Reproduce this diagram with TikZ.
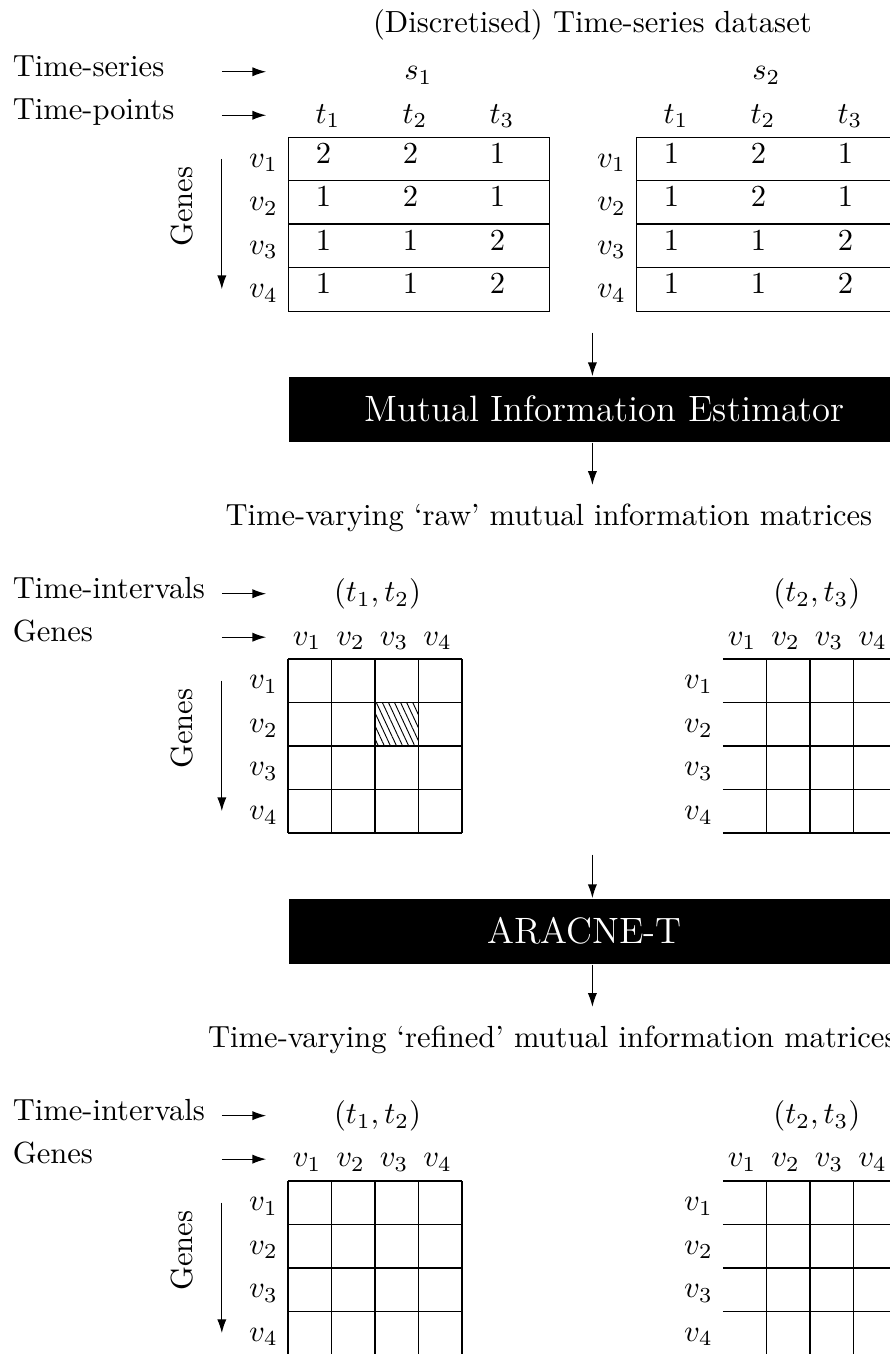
\documentclass[tikz,border=0pt]{standalone}
\usepackage{tikz}
\usetikzlibrary{arrows.meta,positioning,patterns.meta,calc}

\begin{document}
\begin{tikzpicture}[
    arrow/.style={-{Latex[length=4.5pt,width=3pt]}},
    lefttext/.style={anchor=base west, inner sep=0pt},
    head/.style={anchor=base, inner sep=0pt},
    rowlab/.style={anchor=base east, inner sep=0pt},
    genes/.style={rotate=90, inner sep=0pt},
    datatab/.style={rectangle, draw, anchor=north west, minimum width=3cm, minimum height=2cm, inner sep=0pt},
    stage/.style={rectangle, fill=black, anchor=north west, minimum width=7.4cm, minimum height=0.75cm, inner sep=0pt},
    stagetext/.style={text=white, font=\large, inner sep=0pt},
    hatched/.style={pattern={Lines[angle=-65,distance=1.8pt,line width=0.3pt]}}
  ]
    \useasboundingbox (-3.31,-13.99) rectangle (6.92,1.575);
    \clip (-3.31,-13.99) rectangle (6.92,1.575);

    % discretised dataset
    \node[head] (title) at (3.5,1.2) {(Discretised) Time-series dataset};
    \node[lefttext] (tslab) at (-3.17,0.69) {Time-series};
    \node[lefttext] (tplab) at (-3.17,0.2) {Time-points};
    \coordinate (tsa) at (-0.76,0.75);
    \coordinate (tsb) at (-0.25,0.75);
    \coordinate (tpa) at (-0.76,0.25);
    \coordinate (tpb) at (-0.25,0.25);
    \draw[arrow] (tsa) -- (tsb);
    \draw[arrow] (tpa) -- (tpb);

    \node[head] (s1) at (1.5,0.66) {$s_1$};
    \node[head] (s2) at (5.5,0.66) {$s_2$};
    \node[datatab] (s1tab) at (0,0) {};
    \node[datatab] (s2tab) at (4,0) {};
    \foreach \y in {-0.5,-1,-1.5} {
      \draw (0,\y) -- (3,\y);
      \draw (4,\y) -- (7,\y);
    }
    \foreach \k in {1,2,3} {
      \node[head] (s1t\k) at ({0.46+\k-1},0.16) {$t_{\k}$};
      \node[head] (s2t\k) at ({4.46+\k-1},0.16) {$t_{\k}$};
    }
    \foreach \a/\b/\c [count=\r] in {2/2/1,1/2/1,1/1/2,1/1/2} {
      \node[head] (s1r\r a) at (0.41,{-0.3-0.5*(\r-1)}) {\a};
      \node[head] (s1r\r b) at (1.41,{-0.3-0.5*(\r-1)}) {\b};
      \node[head] (s1r\r c) at (2.41,{-0.3-0.5*(\r-1)}) {\c};
    }
    \foreach \a/\b/\c [count=\r] in {1/2/1,1/2/1,1/1/2,1/1/2} {
      \node[head] (s2r\r a) at (4.41,{-0.3-0.5*(\r-1)}) {\a};
      \node[head] (s2r\r b) at (5.41,{-0.3-0.5*(\r-1)}) {\b};
      \node[head] (s2r\r c) at (6.41,{-0.3-0.5*(\r-1)}) {\c};
    }
    \foreach \r in {1,...,4} {
      \node[rowlab] (s1v\r) at (-0.11,{-0.345-0.5*(\r-1)}) {$v_{\r}$};
      \node[rowlab] (s2v\r) at (3.89,{-0.345-0.5*(\r-1)}) {$v_{\r}$};
    }
    \node[genes] (genes0) at (-1.22,-0.8) {Genes};
    \coordinate (g0a) at (-0.76,-0.25);
    \coordinate (g0b) at (-0.76,-1.75);
    \draw[arrow] (g0a) -- (g0b);

    % mutual information estimator
    \coordinate (in1) at (3.5,-2.25);
    \coordinate (out1) at (3.5,-4.0);
    \node[stage] (mie) at (0,-2.75) {};
    \node[stagetext] (mietext) at (3.64,-3.125) {Mutual Information Estimator};
    \draw[arrow] (in1) -- (in1 |- mie.north);
    \draw[arrow] (out1 |- mie.south) -- (out1);
    \node[head] (rawcap) at (3.0,-4.47) {Time-varying `raw' mutual information matrices};

    % raw matrices
    \node[lefttext] (tilab1) at (-3.17,-5.31) {Time-intervals};
    \node[lefttext] (gnlab1) at (-3.17,-5.8) {Genes};
    \coordinate (ti1a) at (-0.76,-5.25);
    \coordinate (ti1b) at (-0.25,-5.25);
    \coordinate (gn1a) at (-0.76,-5.75);
    \coordinate (gn1b) at (-0.25,-5.75);
    \draw[arrow] (ti1a) -- (ti1b);
    \draw[arrow] (gn1a) -- (gn1b);
    \node[head] (raw12) at (1.03,-5.34) {$(t_1,t_2)$};
    \node[head] (raw23) at (6.08,-5.34) {$(t_2,t_3)$};
    \path[hatched] (1,-6.5) rectangle (1.5,-7);
    \draw[step=0.5] (0,-8) grid (2,-6);
    \draw[step=0.5] (5,-8) grid (7,-6);
    \foreach \k in {1,...,4} {
      \node[head] (rawa\k) at ({0.22+0.5*(\k-1)},-5.84) {$v_{\k}$};
      \node[head] (rawb\k) at ({5.22+0.5*(\k-1)},-5.84) {$v_{\k}$};
      \node[rowlab] (rawav\k) at (-0.11,{-6.345-0.5*(\k-1)}) {$v_{\k}$};
      \node[rowlab] (rawbv\k) at (4.89,{-6.345-0.5*(\k-1)}) {$v_{\k}$};
    }
    \node[genes] (genes1) at (-1.22,-6.8) {Genes};
    \coordinate (g1a) at (-0.76,-6.25);
    \coordinate (g1b) at (-0.76,-7.75);
    \draw[arrow] (g1a) -- (g1b);

    % aracne-t
    \coordinate (in2) at (3.5,-8.25);
    \coordinate (out2) at (3.5,-10.0);
    \node[stage] (arc) at (0,-8.75) {};
    \node[stagetext] (arctext) at (3.41,-9.125) {ARACNE-T};
    \draw[arrow] (in2) -- (in2 |- arc.north);
    \draw[arrow] (out2 |- arc.south) -- (out2);
    \node[head] (refcap) at (3.04,-10.47) {Time-varying `refined' mutual information matrices};

    % refined matrices
    \node[lefttext] (tilab2) at (-3.17,-11.31) {Time-intervals};
    \node[lefttext] (gnlab2) at (-3.17,-11.8) {Genes};
    \coordinate (ti2a) at (-0.76,-11.25);
    \coordinate (ti2b) at (-0.25,-11.25);
    \coordinate (gn2a) at (-0.76,-11.75);
    \coordinate (gn2b) at (-0.25,-11.75);
    \draw[arrow] (ti2a) -- (ti2b);
    \draw[arrow] (gn2a) -- (gn2b);
    \node[head] (ref12) at (1.03,-11.34) {$(t_1,t_2)$};
    \node[head] (ref23) at (6.08,-11.34) {$(t_2,t_3)$};
    \draw[step=0.5] (0,-14) grid (2,-12);
    \draw[step=0.5] (5,-14) grid (7,-12);
    \foreach \k in {1,...,4} {
      \node[head] (refa\k) at ({0.22+0.5*(\k-1)},-11.84) {$v_{\k}$};
      \node[head] (refb\k) at ({5.22+0.5*(\k-1)},-11.84) {$v_{\k}$};
      \node[rowlab] (refav\k) at (-0.11,{-12.345-0.5*(\k-1)}) {$v_{\k}$};
      \node[rowlab] (refbv\k) at (4.89,{-12.345-0.5*(\k-1)}) {$v_{\k}$};
    }
    \node[genes] (genes2) at (-1.22,-12.8) {Genes};
    \coordinate (g2a) at (-0.76,-12.25);
    \coordinate (g2b) at (-0.76,-13.75);
    \draw[arrow] (g2a) -- (g2b);
  \end{tikzpicture}
\end{document}
